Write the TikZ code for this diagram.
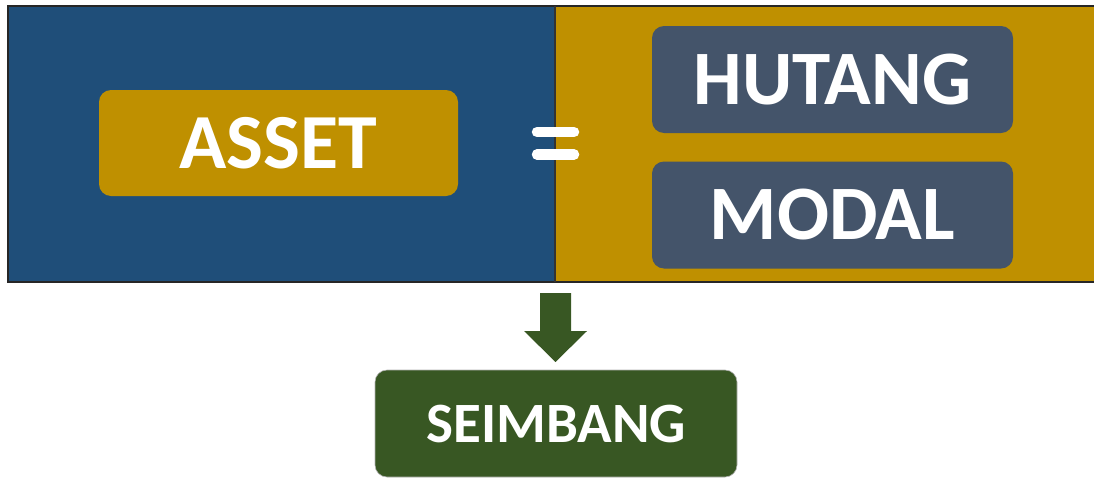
\documentclass[tikz,border=0pt]{standalone}
\usepackage{fontspec}
\setmainfont{Carlito}
\definecolor{panelblue}{HTML}{1F4E79}
\definecolor{panelgold}{HTML}{BF9000}
\definecolor{slatebox}{HTML}{44546A}
\definecolor{leafgreen}{HTML}{385723}
\tikzset{
  tag/.style={rounded corners=12pt, inner sep=0pt, text=white, font=\bfseries},
}
\begin{document}
\begin{tikzpicture}[x=1pt, y=-1pt, line width=0.6pt]
  \useasboundingbox (0,0) rectangle (1094,479);
  \fill[panelblue] (8,6) rectangle (555,282);
  \fill[panelgold] (555,6) rectangle (1094,282);
  \draw[line width=1.2pt, black!85] (1094,6) -- (8,6) -- (8,282) -- (1094,282);
  \draw[line width=1.2pt, black!80] (555,6) -- (555,282);
  \node[tag, fill=panelgold, minimum width=359pt, minimum height=106pt, font=\bfseries\fontsize{78}{78}\selectfont] (asset) at (278.5,143) {ASSET};
  \draw[white, line width=10.5pt, line cap=round] (537,132) -- (574,132);
  \draw[white, line width=10.5pt, line cap=round] (537,154.5) -- (574,154.5);
  \node[tag, fill=slatebox, minimum width=361pt, minimum height=107pt, font=\bfseries\fontsize{77}{77}\selectfont] (hutang) at (832.5,79.5) {HUTANG};
  \node[tag, fill=slatebox, minimum width=361pt, minimum height=107pt, font=\bfseries\fontsize{77}{77}\selectfont] (modal) at (832.5,215) {MODAL};
  \fill[leafgreen] (540,293) -- (571,293) -- (571,331) -- (587,331) -- (555.5,362) -- (524,331) -- (540,331) -- cycle;
  \node[tag, fill=leafgreen, draw=gray!60, minimum width=362pt, minimum height=107pt, font=\bfseries\fontsize{57}{57}\selectfont] (seimbang) at (556,423.5) {SEIMBANG};
\end{tikzpicture}
\end{document}
